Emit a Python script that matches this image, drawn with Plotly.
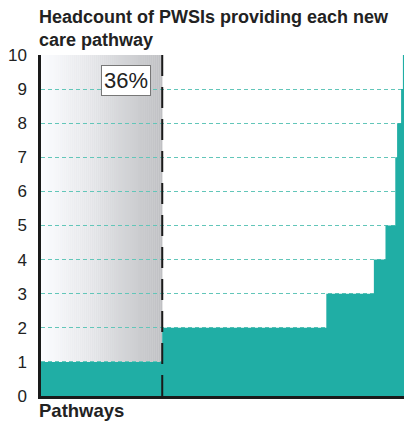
import plotly.graph_objects as go

# data: share of pathways (%) where each headcount step starts
step_start = [0, 33.4, 78.6, 91.7, 94.9, 97.6, 98.1, 99.2, 99.7]
headcount = [1, 2, 3, 4, 5, 7, 8, 9, 10]
x_end = 100
highlight_label = "36%"
y_ticks = list(range(0, 11))

TEAL = "#20AEA5"
INK = "#222222"
FONT = "Liberation Sans, Arial, sans-serif"

fig = go.Figure()

fig.add_trace(go.Scatter(
    x=step_start + [x_end],
    y=headcount + [headcount[-1]],
    mode="lines",
    line=dict(shape="hv", width=0, color=TEAL),
    fill="tozeroy",
    fillcolor=TEAL,
    hoverinfo="skip",
    showlegend=False,
))

# grey gradient panel over the single-headcount pathways
split = step_start[1]
n_slices = 60
for i in range(n_slices):
    t = i / (n_slices - 1)
    c = int(251 - (t ** 1.1) * (251 - 192))
    fig.add_shape(
        type="rect", layer="below",
        x0=split * i / n_slices, x1=split * (i + 1) / n_slices + 0.05,
        y0=0, y1=10,
        fillcolor=f"rgb({c},{c + 1},{c + 4})",
        line=dict(width=0),
    )

# dashed marker at the split
fig.add_shape(
    type="line", x0=split, x1=split, y0=0, y1=10,
    line=dict(color="#1a1a1a", width=2, dash="21px,11px"),
)

fig.add_annotation(
    x=split * 0.7, y=9.25, text=highlight_label, showarrow=False,
    font=dict(size=22, color=INK, family=FONT),
    bgcolor="white", bordercolor="#777777", borderwidth=1, borderpad=2,
)

fig.add_annotation(
    xref="paper", yref="paper", x=0, y=1, xanchor="left", yanchor="bottom",
    xshift=-4, yshift=3, align="left", showarrow=False,
    text="<b>Headcount of PWSIs providing each new<br>care pathway</b>",
    font=dict(size=18, color=INK, family=FONT),
)

fig.add_annotation(
    xref="paper", yref="paper", x=0, y=0, xanchor="left", yanchor="top",
    xshift=-4, yshift=-2, text="<b>Pathways</b>", showarrow=False,
    font=dict(size=18.5, color=INK, family=FONT),
)

fig.update_xaxes(
    range=[0, x_end], showgrid=False, zeroline=False, showticklabels=False,
    showline=True, linecolor="#1a1a1a", linewidth=2.5,
)
fig.update_yaxes(
    range=[0, 10], tickvals=y_ticks, showgrid=True,
    gridcolor="#62c6b9", gridwidth=1, griddash="4px,3px",
    zeroline=False, showline=True, linecolor="#1a1a1a", linewidth=2.5,
    ticks="", ticklabelstandoff=8,
    tickfont=dict(size=17, color=INK, family=FONT),
)

# page body adds an 8px margin and clips the right side, so keep the figure inside
fig.update_layout(
    width=396, height=419,
    margin=dict(l=30, r=0, t=47, b=31),
    plot_bgcolor="white", paper_bgcolor="white",
    showlegend=False,
)

fig.write_html("out.html")
